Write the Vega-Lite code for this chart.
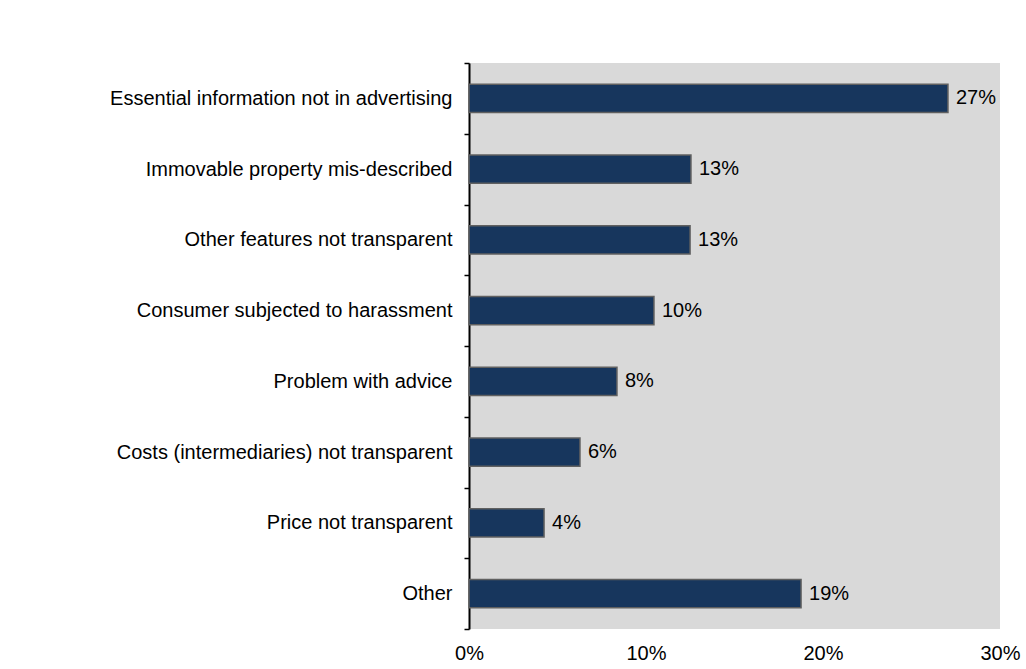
{
  "$schema": "https://vega.github.io/schema/vega-lite/v6.json",
  "autosize": "none",
  "width": 531,
  "height": 566,
  "padding": {"left": 469, "top": 63, "right": 26, "bottom": 40},
  "background": "white",
  "config": {
    "font": "Liberation Sans",
    "view": {"fill": "#d9d9d9", "stroke": null}
  },
  "data": {
    "values": [
      {"category": "Essential information not in advertising", "share": 0.2706, "label": "27%"},
      {"category": "Immovable property mis-described", "share": 0.1254, "label": "13%"},
      {"category": "Other features not transparent", "share": 0.1249, "label": "13%"},
      {"category": "Consumer subjected to harassment", "share": 0.1045, "label": "10%"},
      {"category": "Problem with advice", "share": 0.0836, "label": "8%"},
      {"category": "Costs (intermediaries) not transparent", "share": 0.0627, "label": "6%"},
      {"category": "Price not transparent", "share": 0.0424, "label": "4%"},
      {"category": "Other", "share": 0.1876, "label": "19%"}
    ]
  },
  "encoding": {
    "y": {
      "field": "category",
      "type": "nominal",
      "sort": null,
      "scale": {"paddingInner": 0, "paddingOuter": 0},
      "axis": {
        "title": null,
        "tickBand": "extent",
        "domainColor": "black",
        "domainWidth": 2,
        "tickColor": "black",
        "tickWidth": 1.5,
        "tickSize": 5,
        "labelPadding": 12,
        "labelFontSize": 20,
        "labelColor": "black",
        "labelLimit": 0,
        "grid": false
      }
    },
    "x": {
      "field": "share",
      "type": "quantitative",
      "scale": {"domain": [0, 0.3], "nice": false},
      "axis": {
        "title": null,
        "values": [0, 0.1, 0.2, 0.3],
        "format": ".0%",
        "grid": false,
        "domain": false,
        "ticks": false,
        "tickSize": 0,
        "labelPadding": 14,
        "labelFontSize": 20,
        "labelColor": "black",
        "labelFlush": false
      }
    }
  },
  "layer": [
    {
      "mark": {"type": "bar", "height": {"band": 0.4}, "fill": "#17365d", "stroke": "#606060", "strokeWidth": 1.5}
    },
    {
      "mark": {"type": "text", "align": "left", "baseline": "middle", "dx": 8, "fontSize": 20, "color": "black"},
      "encoding": {"text": {"field": "label"}}
    }
  ]
}
